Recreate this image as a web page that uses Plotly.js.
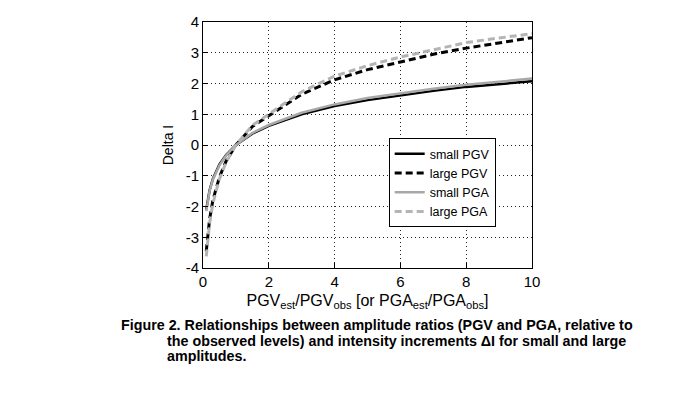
<!DOCTYPE html>
<html>
<head>
<meta charset="utf-8">
<script src="https://cdn.plot.ly/plotly-3.0.1.min.js"></script>
<style>html,body{margin:0;padding:0;background:#fff;}#chart{width:680px;height:394px;}</style>
</head>
<body>
<div id="chart"></div>
<script>
const ratio = [0.1, 0.2, 0.3, 0.5, 0.7, 1, 1.5, 2, 3, 4, 5, 6, 7, 8, 9, 10];
const smallPGV = [-2.1, -1.47, -1.1, -0.63, -0.33, 0, 0.37, 0.62, 1.0, 1.27, 1.46, 1.62, 1.76, 1.89, 1.98, 2.07];
const largePGV = [-3.45, -2.42, -1.8, -1.04, -0.53, 0, 0.6, 0.95, 1.65, 2.12, 2.45, 2.7, 2.95, 3.15, 3.32, 3.49];
const smallPGA = [-2.15, -1.5, -1.13, -0.66, -0.34, 0, 0.39, 0.65, 1.05, 1.32, 1.53, 1.69, 1.83, 1.96, 2.06, 2.16];
const largePGA = [-3.62, -2.55, -1.9, -1.1, -0.57, 0, 0.64, 1.0, 1.73, 2.24, 2.58, 2.86, 3.1, 3.33, 3.48, 3.62];
const seriesNames = ["small PGV", "large PGV", "small PGA", "large PGA"];
const xTickVals = [0, 2, 4, 6, 8, 10];
const xTickText = ["0", "2", "4", "6", "8", "10"];
const yTickVals = [-4, -3, -2, -1, 0, 1, 2, 3, 4];
const yTickText = ["-4", "-3", "-2", "-1", "0", "1", "2", "3", "4"];
const captionLines = [
  "Figure 2. Relationships between amplitude ratios (PGV and PGA, relative to",
  "the observed levels) and intensity increments \u0394I for small and large",
  "amplitudes."
];

const L = 202.5, R = 531.7, T = 21.7, B = 268.3;
const px2x = p => (p - L) / (R - L);
const py2y = p => (B - p) / (B - T);
const FONT = "Liberation Sans, Arial, sans-serif";

const traces = [
  {x: ratio, y: smallPGV, name: seriesNames[0], line: {color: "#000000", width: 2.5}},
  {x: ratio, y: largePGV, name: seriesNames[1], line: {color: "#000000", width: 3, dash: "7px,4px"}},
  {x: ratio, y: smallPGA, name: seriesNames[2], line: {color: "#a8a8a8", width: 2.5}},
  {x: ratio, y: largePGA, name: seriesNames[3], line: {color: "#b4b4b4", width: 3, dash: "7px,4px"}}
].map(t => Object.assign({type: "scatter", mode: "lines"}, t));

const axisCommon = {
  showline: true, mirror: true, linecolor: "#000", linewidth: 1,
  ticks: "inside", ticklen: 5, tickcolor: "#000",
  showgrid: true, gridcolor: "#222", gridwidth: 1, griddash: "1px,3px",
  zeroline: false,
  tickfont: {family: FONT, size: 15, color: "#000"}
};

const capFont = {family: FONT, size: 14.3, color: "#000"};
const annotations = [
  {text: "<b>" + captionLines[0] + "</b>", x: px2x(118), y: py2y(325)},
  {text: "<b>" + captionLines[1] + "</b>", x: px2x(164), y: py2y(341)},
  {text: "<b>" + captionLines[2] + "</b>", x: px2x(164), y: py2y(357)}
].map(a => Object.assign({xref: "paper", yref: "paper", xanchor: "left", yanchor: "middle", showarrow: false, font: capFont}, a));

const layout = {
  width: 680, height: 394,
  margin: {l: L, r: 680 - R, t: T, b: 394 - B, pad: 0},
  paper_bgcolor: "#fff", plot_bgcolor: "#fff",
  showlegend: true,
  legend: {
    x: px2x(388.3), y: py2y(138), xanchor: "left", yanchor: "top",
    bgcolor: "#fff", bordercolor: "#000", borderwidth: 1,
    font: {family: FONT, size: 12.5, color: "#000"},
    tracegroupgap: 0, entrywidth: 70, entrywidthmode: "pixels"
  },
  xaxis: Object.assign({}, axisCommon, {
    range: [0, 10], tickvals: xTickVals, ticktext: xTickText,
    title: {text: "PGV<sub>est</sub>/PGV<sub>obs</sub> [or PGA<sub>est</sub>/PGA<sub>obs</sub>]",
            font: {family: FONT, size: 16, color: "#000"}, standoff: 5}
  }),
  yaxis: Object.assign({}, axisCommon, {
    range: [-4, 4], tickvals: yTickVals, ticktext: yTickText,
    title: {text: "Delta I", font: {family: FONT, size: 14, color: "#000"}, standoff: 8}
  }),
  annotations: annotations
};

Plotly.newPlot("chart", traces, layout, {displayModeBar: false, staticPlot: true});
</script>
</body>
</html>
